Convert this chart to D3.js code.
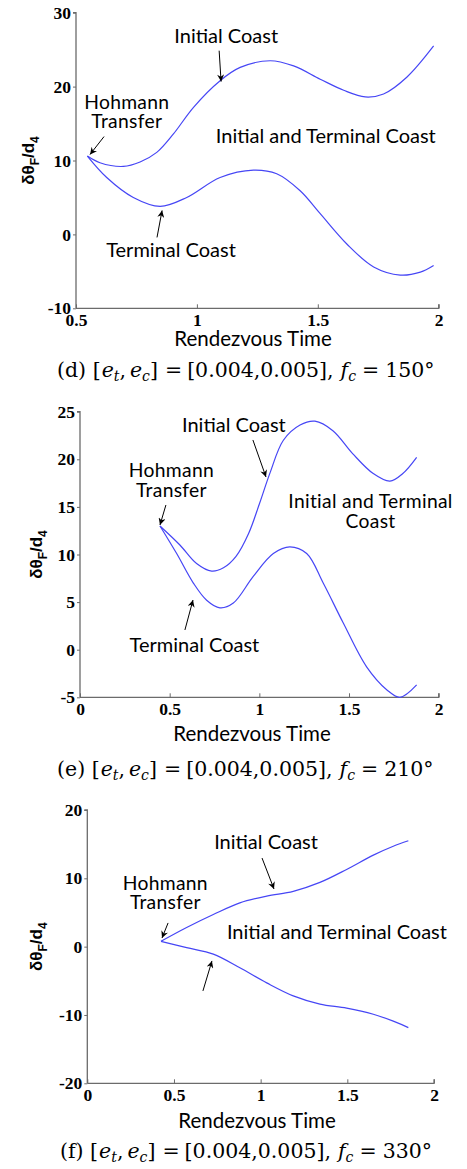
<!DOCTYPE html>
<html>
<head>
<meta charset="utf-8">
<script src="https://cdn.jsdelivr.net/npm/d3@7"></script>
<style>
  html, body { margin: 0; padding: 0; background: #fff; }
  svg { display: block; }
</style>
</head>
<body>
<svg id="chart" width="467" height="1169"></svg>
<script>
// ---------------- DATA ----------------
// Panel (d)  f_c = 150°
const dXTicks = [0.5, 1, 1.5, 2];
const dYTicks = [-10, 0, 10, 20, 30];
const dInitialT  = [0.547, 0.599, 0.696, 0.765, 0.834, 0.903, 0.986, 1.096, 1.179, 1.303, 1.40, 1.51, 1.607, 1.696, 1.772, 1.869, 1.979];
const dInitialV  = [10.6, 9.7, 9.2, 9.8, 11.1, 13.6, 17.2, 20.8, 22.6, 23.5, 22.8, 21.0, 19.5, 18.6, 19.0, 21.3, 25.5];
const dTerminalT = [0.547, 0.627, 0.737, 0.848, 0.958, 1.096, 1.234, 1.33, 1.427, 1.51, 1.62, 1.731, 1.841, 1.924, 1.979];
const dTerminalV = [10.6, 7.7, 5.0, 3.8, 5.0, 7.7, 8.7, 8.2, 5.9, 2.8, -1.3, -4.4, -5.5, -5.1, -4.2];

// Panel (e)  f_c = 210°
const eXTicks = [0, 0.5, 1, 1.5, 2];
const eYTicks = [-5, 0, 5, 10, 15, 20, 25];
const eInitialT  = [0.446, 0.557, 0.65, 0.734, 0.80, 0.87, 0.94, 1.0, 1.06, 1.134, 1.227, 1.31, 1.41, 1.52, 1.635, 1.728, 1.80, 1.877];
const eInitialV  = [13.0, 11.0, 9.05, 8.25, 8.6, 9.8, 12.2, 15.3, 18.6, 22.0, 23.6, 24.0, 23.0, 20.6, 18.5, 17.7, 18.5, 20.2];
const eTerminalT = [0.446, 0.539, 0.632, 0.706, 0.78, 0.855, 0.966, 1.078, 1.17, 1.264, 1.356, 1.468, 1.598, 1.71, 1.784, 1.877];
const eTerminalV = [13.0, 10.1, 7.0, 5.2, 4.4, 4.9, 7.7, 10.1, 10.8, 10.1, 7.0, 2.8, -1.8, -4.2, -5.0, -3.7];

// Panel (f)  f_c = 330°
const fXTicks = [0, 0.5, 1, 1.5, 2];
const fYTicks = [-20, -10, 0, 10, 20];
const fInitialT  = [0.425, 0.573, 0.727, 0.88, 1.035, 1.188, 1.342, 1.496, 1.65, 1.765, 1.852];
const fInitialV  = [0.78, 2.8, 4.7, 6.4, 7.4, 8.1, 9.4, 11.3, 13.4, 14.7, 15.5];
const fTerminalT = [0.425, 0.573, 0.727, 0.88, 1.035, 1.188, 1.342, 1.496, 1.65, 1.765, 1.852];
const fTerminalV = [0.78, -0.15, -1.1, -3.1, -5.3, -7.2, -8.4, -9.0, -9.9, -10.9, -11.85];

// Annotation texts (data coordinates) and arrows (data coordinates: from -> to)
const dLabels = [
  {lines: ["Initial Coast"], x: 1.121, y: 25.95},
  {lines: ["Hohmann", "Transfer"], x: 0.71, y: 17.03},
  {lines: ["Initial and Terminal Coast"], x: 1.533, y: 12.43},
  {lines: ["Terminal Coast"], x: 0.893, y: -3.11}
];
const dArrows = [
  {x1: 1.092, y1: 24.86, x2: 1.100, y2: 20.68},
  {x1: 0.616, y1: 13.24, x2: 0.558, y2: 10.81},
  {x1: 0.835, y1: -0.41, x2: 0.856, y2: 3.24}
];
const eLabels = [
  {lines: ["Initial Coast"], x: 0.858, y: 22.87},
  {lines: ["Hohmann", "Transfer"], x: 0.51, y: 18.14},
  {lines: ["Initial and Terminal", "Coast"], x: 1.62, y: 14.88},
  {lines: ["Terminal Coast"], x: 0.638, y: -0.24}
];
const eArrows = [
  {x1: 0.964, y1: 22.03, x2: 1.037, y2: 18.14},
  {x1: 0.479, y1: 15.20, x2: 0.446, y2: 13.10},
  {x1: 0.585, y1: 2.07, x2: 0.630, y2: 5.22}
];
const fLabels = [
  {lines: ["Initial Coast"], x: 1.031, y: 14.28},
  {lines: ["Hohmann", "Transfer"], x: 0.45, y: 8.30},
  {lines: ["Initial and Terminal Coast"], x: 1.44, y: 1.13}
];
const fArrows = [
  {x1: 1.008, y1: 12.97, x2: 1.077, y2: 8.44},
  {x1: 0.466, y1: 3.47, x2: 0.431, y2: 1.27},
  {x1: 0.667, y1: -6.48, x2: 0.719, y2: -2.09}
];

// ---------------- DRAW ----------------
const svg = d3.select("#chart");
const SANS = "Lato, 'Noto Sans', sans-serif";
const SERIF = "'Liberation Serif', 'DejaVu Serif', serif";
const CAPFONT = "'DejaVu Serif', 'Liberation Serif', serif";

svg.append("defs").append("marker")
  .attr("id", "ah").attr("viewBox", "0 0 10 10")
  .attr("refX", 10).attr("refY", 5)
  .attr("markerWidth", 8).attr("markerHeight", 7)
  .attr("markerUnits", "userSpaceOnUse")
  .attr("orient", "auto")
  .append("path").attr("d", "M0,0 L10,5 L0,10 L3,5 Z").attr("fill", "#000");

const panels = [
  { x0: 76, x1: 438.7, yTop: 12.7, yBot: 308.3, xDom: [0.5, 2], yDom: [-10, 30],
    xTicks: dXTicks, yTicks: dYTicks,
    series: [[dInitialT, dInitialV], [dTerminalT, dTerminalV]],
    labels: dLabels, arrows: dArrows,
    ylabX: 28, titleY: 345, titleX: 253, capX: 57, capY: 377, capLetter: "d", capAngle: "150°" },
  { x0: 80, x1: 438.7, yTop: 411.7, yBot: 697.3, xDom: [0, 2], yDom: [-5, 25],
    xTicks: eXTicks, yTicks: eYTicks,
    series: [[eInitialT, eInitialV], [eTerminalT, eTerminalV]],
    labels: eLabels, arrows: eArrows,
    ylabX: 36, titleY: 740, titleX: 252, capX: 57, capY: 776, capLetter: "e", capAngle: "210°" },
  { x0: 87.3, x1: 434, yTop: 810, yBot: 1083.3, xDom: [0, 2], yDom: [-20, 20],
    xTicks: fXTicks, yTicks: fYTicks,
    series: [[fInitialT, fInitialV], [fTerminalT, fTerminalV]],
    labels: fLabels, arrows: fArrows,
    ylabX: 36, titleY: 1127, titleX: 257, capX: 60, capY: 1158, capLetter: "f", capAngle: "330°" }
];

panels.forEach(p => {
  const x = d3.scaleLinear().domain(p.xDom).range([p.x0, p.x1]);
  const y = d3.scaleLinear().domain(p.yDom).range([p.yBot, p.yTop]);
  const g = svg.append("g");

  // axes
  const xAxis = d3.axisBottom(x).tickValues(p.xTicks).tickSize(-4).tickPadding(8)
    .tickFormat(d => String(d));
  const yAxis = d3.axisLeft(y).tickValues(p.yTicks).tickSize(3).tickPadding(2)
    .tickFormat(d => String(d));

  const gx = g.append("g").attr("transform", `translate(0,${p.yBot})`).call(xAxis);
  const gy = g.append("g").attr("transform", `translate(${p.x0},0)`).call(yAxis);
  [gx, gy].forEach(ax => {
    ax.select(".domain").attr("stroke", "#6b6b6b").attr("stroke-width", 1.3);
    ax.selectAll(".tick line").attr("stroke", "#6b6b6b").attr("stroke-width", 1);
    ax.selectAll(".tick text").attr("fill", "#000")
      .attr("font-family", SERIF).attr("font-weight", "bold").attr("font-size", 17.5);
  });
  gx.select(".domain").attr("d", `M${p.x0},0H${p.x1}V-4`);
  gy.select(".domain").attr("d", `M0,${p.yBot}V${p.yTop}H-3`);
  gx.selectAll(".tick text").attr("dy", "0.71em").attr("y", 5);

  // curves
  const line = d3.line().x(d => x(d[0])).y(d => y(d[1])).curve(d3.curveCatmullRom.alpha(0.5));
  p.series.forEach(([ts, vs]) => {
    g.append("path").datum(ts.map((t, i) => [t, vs[i]]))
      .attr("d", line).attr("fill", "none")
      .attr("stroke", "#4646f5").attr("stroke-width", 1.2);
  });

  // annotations (each line its own text element)
  p.labels.forEach(l => {
    const multi = l.lines.length > 1;
    l.lines.forEach((s, i) => {
      g.append("text").attr("x", x(l.x)).attr("y", y(l.y) + i * 19.5)
        .attr("text-anchor", "middle").attr("font-family", SANS)
        .attr("font-size", multi ? 19.3 : 20)
        .attr("letter-spacing", multi ? 0.3 : 0)
        .attr("fill", "#000").text(s);
    });
  });
  p.arrows.forEach(a => {
    g.append("line").attr("x1", x(a.x1)).attr("y1", y(a.y1))
      .attr("x2", x(a.x2)).attr("y2", y(a.y2))
      .attr("stroke", "#000").attr("stroke-width", 1)
      .attr("marker-end", "url(#ah)");
  });

  // y label
  const yMid = (p.yTop + p.yBot) / 2;
  const yl = g.append("text")
    .attr("transform", `translate(${p.ylabX + 6},${yMid}) rotate(-90)`)
    .attr("text-anchor", "middle")
    .attr("font-family", "'Liberation Sans', Arial, sans-serif")
    .attr("font-weight", "bold")
    .attr("font-size", 17).attr("fill", "#000");
  yl.append("tspan").text("δθ");
  yl.append("tspan").attr("font-size", 12).attr("dy", 5).text("F");
  yl.append("tspan").attr("dy", -5).text("/d");
  yl.append("tspan").attr("font-size", 12).attr("dy", 5).text("4");

  // x title
  g.append("text").attr("x", p.titleX).attr("y", p.titleY + 1)
    .attr("text-anchor", "middle").attr("font-family", SANS)
    .attr("font-size", 20.5).attr("fill", "#000").text("Rendezvous Time");

  // caption
  const cap = g.append("text").attr("x", p.capX).attr("y", p.capY)
    .attr("text-anchor", "start").attr("font-family", CAPFONT)
    .attr("font-size", 20.5).attr("fill", "#000");
  cap.append("tspan").text(`(${p.capLetter}) [`);
  cap.append("tspan").attr("font-style", "italic").attr("dx", 1).text("e");
  cap.append("tspan").attr("font-style", "italic").attr("font-size", 14).attr("dy", 4).text("t");
  cap.append("tspan").attr("dy", -4).text(",");
  cap.append("tspan").attr("font-style", "italic").attr("dx", 4).text("e");
  cap.append("tspan").attr("font-style", "italic").attr("font-size", 14).attr("dy", 4).text("c");
  cap.append("tspan").attr("dy", -4).text("]");
  cap.append("tspan").attr("dx", 7).text("=");
  cap.append("tspan").attr("dx", 5).text("[0.004,0.005],");
  cap.append("tspan").attr("font-style", "italic").attr("dx", 7).text("f");
  cap.append("tspan").attr("font-style", "italic").attr("font-size", 14).attr("dy", 4).text("c");
  cap.append("tspan").attr("dy", -4).attr("dx", 6).text("=");
  cap.append("tspan").attr("dx", 6).text(p.capAngle);
});
</script>
</body>
</html>
